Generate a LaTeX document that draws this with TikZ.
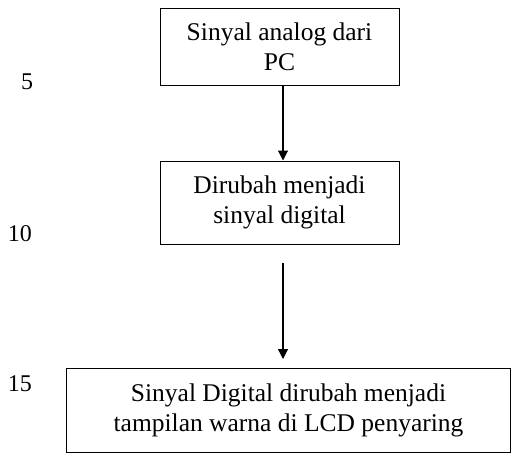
\documentclass[tikz,border=0pt]{standalone}
\usepackage{fontspec}
\setmainfont{Liberation Serif}
\usetikzlibrary{arrows.meta}
\begin{document}
\begin{tikzpicture}[x=1pt,y=-1pt,
  boxa/.style={draw,line width=1pt,inner sep=0pt,align=center,font=\fontsize{25.5}{30}\selectfont},
  conn/.style={line width=1.1pt,-{Triangle[width=10pt,length=10pt]}},
  lno/.style={font=\fontsize{24}{28}\selectfont}]
\useasboundingbox (0,0) rectangle (511,453);
\node[boxa,minimum width=239pt,minimum height=77pt] (a) at (279.5,46.5) {Sinyal analog dari\\PC};
\node[boxa,minimum width=239pt,minimum height=83pt] (b) at (279.5,202.5) {Dirubah menjadi\\sinyal digital};
\node[boxa,minimum width=444pt,minimum height=84pt] (c) at (288.5,410) {Sinyal Digital dirubah menjadi\\tampilan warna di LCD penyaring};
\coordinate (s) at (283,263);
\draw[conn] (a.south -| s) -- (b.north -| s);
\draw[conn] (s) -- (283,359);
\node[lno] (n5) at (27,82) {5};
\node[lno] (n10) at (20,234) {10};
\node[lno] (n15) at (20,384) {15};
\end{tikzpicture}
\end{document}
